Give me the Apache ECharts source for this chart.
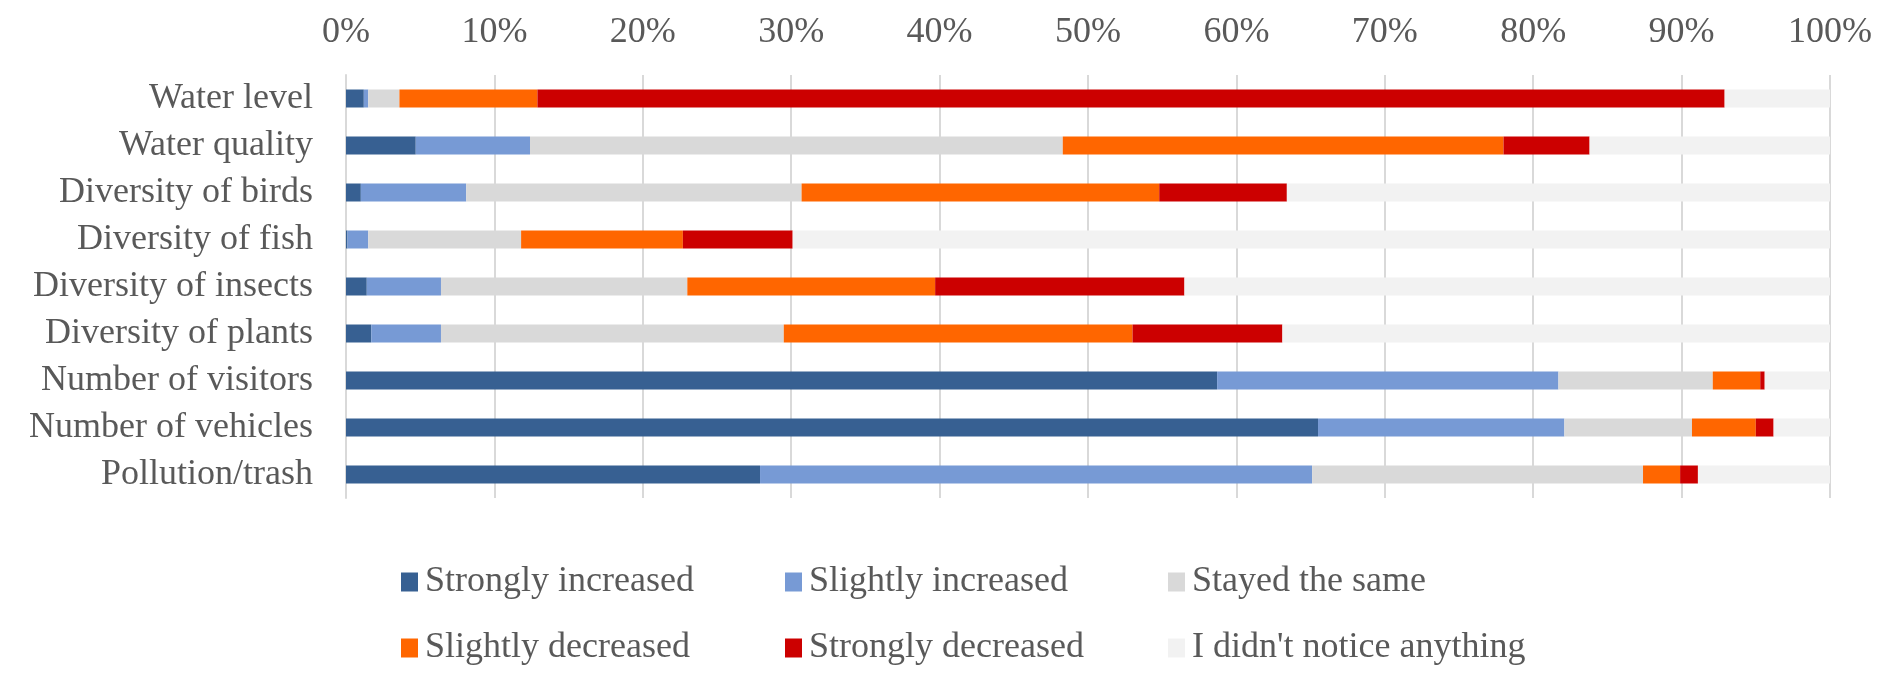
<!DOCTYPE html>
<html>
<head>
<meta charset="utf-8">
<script src="https://cdn.jsdelivr.net/npm/echarts@6/dist/echarts.min.js"></script>
<style>
html,body{margin:0;padding:0;background:#fff;}
#chart{width:1892px;height:683px;}
</style>
</head>
<body>
<div id="chart"></div>
<script>
const categories = ["Water level","Water quality","Diversity of birds","Diversity of fish","Diversity of insects","Diversity of plants","Number of visitors","Number of vehicles","Pollution/trash"];
const seriesNames = ["Strongly increased","Slightly increased","Stayed the same","Slightly decreased","Strongly decreased","I didn't notice anything"];
const stronglyIncreased = [1.2, 4.7, 1.0, 0.1, 1.4, 1.7, 58.7, 65.5, 27.9];
const slightlyIncreased = [0.3, 7.7, 7.1, 1.4, 5.0, 4.7, 23.0, 16.6, 37.2];
const stayedSame        = [2.1, 35.9, 22.6, 10.3, 16.6, 23.1, 10.4, 8.6, 22.3];
const slightlyDecreased = [9.3, 29.7, 24.1, 10.9, 16.7, 23.5, 3.2, 4.3, 2.5];
const stronglyDecreased = [80.0, 5.8, 8.6, 7.4, 16.8, 10.1, 0.3, 1.2, 1.2];
const didntNotice       = [7.1, 16.3, 36.6, 69.9, 43.5, 36.9, 4.4, 3.8, 8.9];
const tickValues = [0,10,20,30,40,50,60,70,80,90,100];

const allData = [stronglyIncreased, slightlyIncreased, stayedSame, slightlyDecreased, stronglyDecreased, didntNotice];
const colors = ["#376092","#779AD5","#D9D9D9","#FF6600","#CC0000","#F2F2F2"];
const font = "'Liberation Serif','Times New Roman',serif";
const textColor = "#595959";

const chart = echarts.init(document.getElementById('chart'), null, {renderer:'canvas'});

const legendBase = {
  orient: 'vertical',
  top: 559,
  itemWidth: 17,
  itemHeight: 19,
  itemGap: 30,
  icon: 'rect',
  selectedMode: false,
  textStyle: {fontFamily: font, fontSize: 36, color: textColor, lineHeight: 36, padding: [0,0,0,2]}
};

chart.setOption({
  animation: false,
  color: colors,
  textStyle: {fontFamily: font},
  legend: [
    Object.assign({}, legendBase, {left: 396, data: [seriesNames[0], seriesNames[3]]}),
    Object.assign({}, legendBase, {left: 780, data: [seriesNames[1], seriesNames[4]]}),
    Object.assign({}, legendBase, {left: 1163, data: [seriesNames[2], seriesNames[5]]})
  ],
  grid: {left: 346, right: 62, top: 75, bottom: 185, containLabel: false},
  xAxis: {
    type: 'value',
    position: 'top',
    min: tickValues[0],
    max: tickValues[tickValues.length-1],
    interval: 10,
    axisLine: {show: false},
    axisTick: {show: false},
    axisLabel: {
      formatter: v => tickValues.includes(v) ? v + '%' : '',
      fontFamily: font, fontSize: 36, color: textColor, margin: 24
    },
    splitLine: {show: true, lineStyle: {color: '#D9D9D9', width: 2}}
  },
  yAxis: {
    type: 'category',
    data: categories,
    inverse: true,
    axisLine: {show: true, lineStyle: {color: '#D9D9D9', width: 2}},
    axisTick: {show: false},
    axisLabel: {fontFamily: font, fontSize: 36, color: textColor, margin: 33}
  },
  series: seriesNames.map((name, i) => ({
    name: name,
    type: 'bar',
    stack: 'total',
    barWidth: 18,
    data: allData[i],
    itemStyle: {color: colors[i]},
    emphasis: {disabled: true}
  }))
});
</script>
</body>
</html>
